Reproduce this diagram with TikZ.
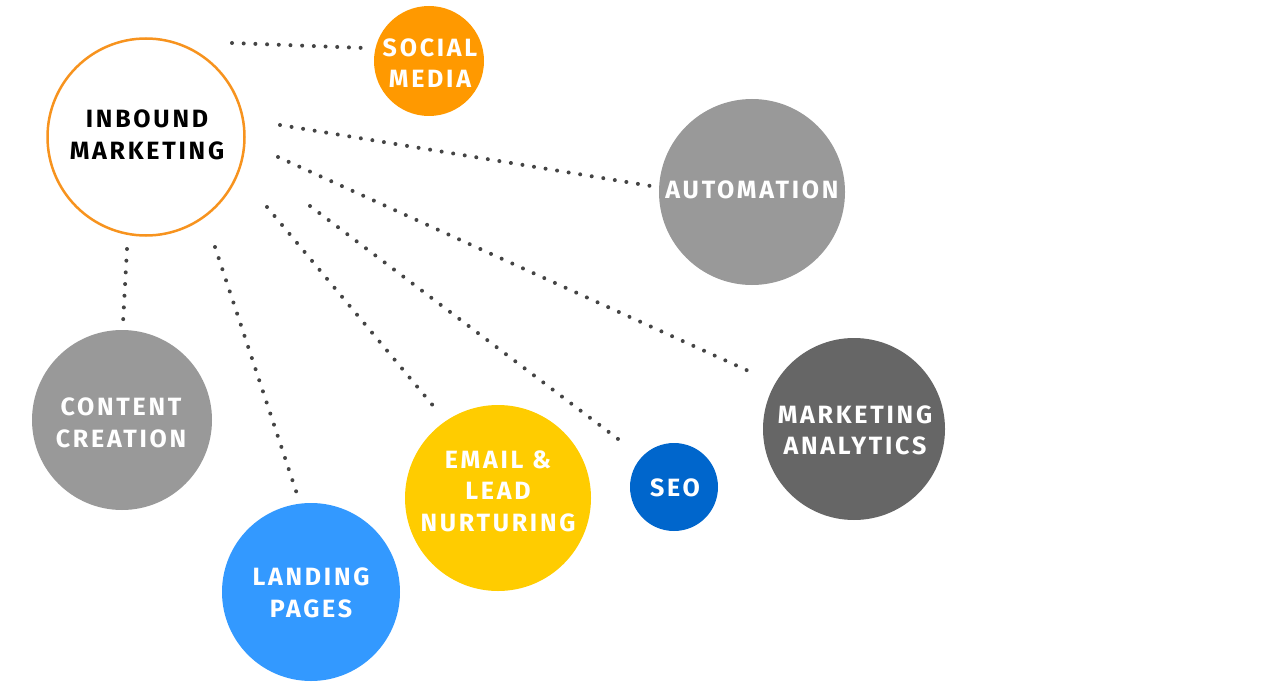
\documentclass[tikz,border=0pt]{standalone}
\usepackage{fontspec}
\setmainfont{Fira Sans}[LetterSpace=11]
\definecolor{cOrange}{HTML}{FF9900}
\definecolor{cRing}{HTML}{F7931E}
\definecolor{cGray}{HTML}{999999}
\definecolor{cDark}{HTML}{666666}
\definecolor{cBlue}{HTML}{3399FF}
\definecolor{cDeep}{HTML}{0066CC}
\definecolor{cYellow}{HTML}{FFCC00}
\definecolor{cDot}{HTML}{444444}
\begin{document}
\begin{tikzpicture}[x=1pt,y=-1pt,
  bubble/.style={circle,inner sep=0pt},
  btext/.style={inner sep=0pt,text=white,align=center,
    font=\fontsize{25}{31.5}\selectfont\bfseries},
  dotline/.style={draw=cDot,line width=4pt,line cap=round,dash pattern=on 0pt off 11.7pt}]
\useasboundingbox (0,0) rectangle (1268,690);
% circles
\node[bubble,minimum size=197pt,draw=cRing,line width=2.5pt,fill=white] (im) at (146,137) {};
\node[bubble,minimum size=110pt,fill=cOrange] (sm) at (429,61) {};
\node[bubble,minimum size=186pt,fill=cGray] (au) at (752,192) {};
\node[bubble,minimum size=180pt,fill=cGray] (cc) at (122,420) {};
\node[bubble,minimum size=178pt,fill=cBlue] (lp) at (311,592) {};
\node[bubble,minimum size=186pt,fill=cYellow] (em) at (498,498) {};
\node[bubble,minimum size=88pt,fill=cDeep] (seo) at (674,487) {};
\node[bubble,minimum size=182pt,fill=cDark] (ma) at (854,429) {};
% labels
\node[btext,text=black] (imt) at (147,135) {INBOUND\\MARKETING};
\node[btext] (smt) at (430,63) {SOCIAL\\MEDIA};
\node[btext] (aut) at (752,189.5) {AUTOMATION};
\node[btext] (cct) at (121,423) {CONTENT\\CREATION};
\node[btext] (lpt) at (311,593) {LANDING\\PAGES};
\node[btext] (emt) at (498,491) {EMAIL \&\\LEAD\\NURTURING};
\node[btext] (seot) at (675,487.5) {SEO};
\node[btext] (mat) at (855,430.5) {MARKETING\\ANALYTICS};
% connector end points
\coordinate (a1) at (232,43);  \coordinate (b1) at (365,48);
\coordinate (a2) at (280,125); \coordinate (b2) at (657,187);
\coordinate (a3) at (278,157); \coordinate (b3) at (753,373);
\coordinate (a4) at (310,206); \coordinate (b4) at (622,442);
\coordinate (a5) at (267,207); \coordinate (b5) at (435,408);
\coordinate (a6) at (215,247); \coordinate (b6) at (297,494);
\coordinate (a7) at (127,249); \coordinate (b7) at (123,323);
\draw[dotline] (a1) -- (b1);
\draw[dotline] (a2) -- (b2);
\draw[dotline] (a3) -- (b3);
\draw[dotline] (a4) -- (b4);
\draw[dotline] (a5) -- (b5);
\draw[dotline] (a6) -- (b6);
\draw[dotline] (a7) -- (b7);
\end{tikzpicture}
\end{document}
